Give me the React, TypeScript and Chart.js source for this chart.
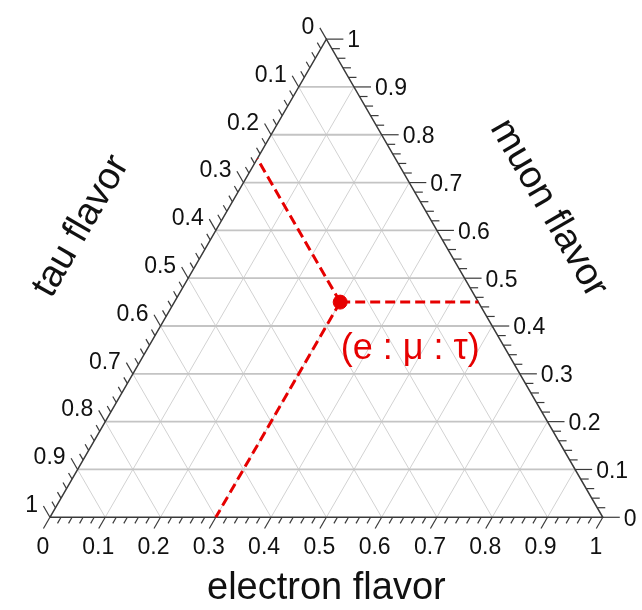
import React, { useEffect, useRef } from "react";
import { Chart, registerables } from "chart.js";

Chart.register(...registerables);

// ---- data ----
const axisTickValues = [0, 0.1, 0.2, 0.3, 0.4, 0.5, 0.6, 0.7, 0.8, 0.9, 1];
const axisTickLabels = ["0", "0.1", "0.2", "0.3", "0.4", "0.5", "0.6", "0.7", "0.8", "0.9", "1"];
const gridValues = [0.1, 0.2, 0.3, 0.4, 0.5, 0.6, 0.7, 0.8, 0.9];
const minorPerMajor = 5;
const electronShare = [0.3];
const muonShare = [0.45];
const tauShare = [0.25];
const axisTitles = ["electron flavor", "muon flavor", "tau flavor"];
const pointLabel = "(e : μ : τ)";

const H = Math.sqrt(3) / 2;
const toXY = (e: number, mu: number) => ({ x: e + mu / 2, y: mu * H });
const GAP = { x: NaN, y: NaN };

function segments(list: Array<[[number, number], [number, number]]>) {
  const out: any[] = [];
  list.forEach(([a, b]) => {
    out.push(toXY(a[0], a[1]), toXY(b[0], b[1]), GAP);
  });
  return out;
}

const FONT = "'Liberation Sans', Arial, sans-serif";

const ternaryPlugin = {
  id: "ternaryDecor",
  afterDatasetsDraw(chart: any) {
    const ctx = chart.ctx as CanvasRenderingContext2D;
    const xs = chart.scales.x;
    const ys = chart.scales.y;
    const pix = (e: number, mu: number) => {
      const p = toXY(e, mu);
      return { x: xs.getPixelForValue(p.x), y: ys.getPixelForValue(p.y) };
    };
    ctx.save();
    ctx.strokeStyle = "#3a3a3a";
    ctx.lineWidth = 1.2;
    const tick = (p: { x: number; y: number }, dx: number, dy: number, len: number) => {
      ctx.beginPath();
      ctx.moveTo(p.x, p.y);
      ctx.lineTo(p.x + dx * len, p.y + dy * len);
      ctx.stroke();
    };
    const nMinor = (axisTickValues.length - 1) * minorPerMajor;
    for (let i = 0; i <= nMinor; i++) {
      const v = i / nMinor;
      const major = i % minorPerMajor === 0;
      tick(pix(v, 0), -0.5, 0.866, major ? 13 : 7);
      tick(pix(1 - v, v), 1, 0, major ? 17 : 8);
      tick(pix(0, 1 - v), -0.5, -0.866, major ? 13 : 7);
    }
    ctx.fillStyle = "#111";
    ctx.font = `23px ${FONT}`;
    ctx.textBaseline = "middle";
    axisTickValues.forEach((v, i) => {
      const lab = axisTickLabels[i];
      const b = pix(v, 0);
      ctx.textAlign = "center";
      ctx.fillText(lab, b.x - 7, b.y + 30);
      const r = pix(1 - v, v);
      ctx.textAlign = "left";
      ctx.fillText(lab, r.x + 21, r.y + 2);
      const l = pix(0, 1 - v);
      ctx.textAlign = "right";
      ctx.fillText(lab, l.x - 12, l.y - 11.5);
    });
    ctx.font = `38px ${FONT}`;
    ctx.textAlign = "center";
    ctx.textBaseline = "middle";
    const bm = pix(0.5, 0);
    ctx.fillText(axisTitles[0], bm.x, bm.y + 71);
    const rm = pix(0.5, 0.5);
    ctx.save();
    ctx.translate(rm.x + 84, rm.y - 70);
    ctx.rotate(Math.PI / 3);
    ctx.fillText(axisTitles[1], 0, 0);
    ctx.restore();
    const lm = pix(0, 0.5);
    ctx.save();
    ctx.translate(lm.x - 107, lm.y - 52);
    ctx.rotate(-Math.PI / 3);
    ctx.fillText(axisTitles[2], 0, 0);
    ctx.restore();
    const P = pix(electronShare[0], muonShare[0]);
    ctx.fillStyle = "#e60000";
    ctx.font = `36px ${FONT}`;
    ctx.fillText(pointLabel, P.x + 70, P.y + 47);
    ctx.restore();
  },
};

export default function App() {
  const ref = useRef<HTMLCanvasElement | null>(null);
  useEffect(() => {
    if (!ref.current) return;
    document.body.style.margin = "0";
    const e = electronShare[0];
    const mu = muonShare[0];
    const tau = tauShare[0];

    const horizontal = segments(gridValues.map((m) => [[0, m], [1 - m, m]] as any));
    const slanted = segments([
      ...gridValues.map((v) => [[v, 0], [v, 1 - v]] as any),
      ...gridValues.map((t) => [[1 - t, 0], [0, 1 - t]] as any),
    ]);
    const triangle = [toXY(0, 0), toXY(1, 0), toXY(0, 1), toXY(0, 0)];
    const guides = segments([
      [[e, mu], [e, 0]],
      [[e, mu], [1 - mu, mu]],
      [[e, mu], [0, 1 - tau]],
    ] as any);

    const chart = new Chart(ref.current, {
      type: "scatter",
      data: {
        datasets: [
          {
            data: [toXY(e, mu)],
            pointRadius: 7,
            pointBackgroundColor: "#e60000",
            pointBorderColor: "#e60000",
            showLine: false,
          } as any,
          {
            data: guides,
            showLine: true,
            borderColor: "#e60000",
            borderWidth: 3,
            borderDash: [10, 5],
            pointRadius: 0,
          },
          {
            data: triangle,
            showLine: true,
            borderColor: "#3a3a3a",
            borderWidth: 1.5,
            pointRadius: 0,
          },
          {
            data: horizontal,
            showLine: true,
            borderColor: "#c4c4c4",
            borderWidth: 1.8,
            pointRadius: 0,
          },
          {
            data: slanted,
            showLine: true,
            borderColor: "#d2d2d2",
            borderWidth: 1,
            pointRadius: 0,
          },
        ],
      },
      options: {
        animation: false,
        responsive: false,
        devicePixelRatio: 1,
        layout: { padding: 0 },
        plugins: { legend: { display: false }, tooltip: { enabled: false } },
        events: [],
        scales: {
          x: { type: "linear", display: false, min: -43 / 567, max: 599 / 567 },
          y: { type: "linear", display: false, min: -87 / 567, max: 523 / 567 },
        },
      },
      plugins: [ternaryPlugin],
    });
    return () => chart.destroy();
  }, []);
  return (
    <div style={{ width: 642, height: 610, background: "#fff" }}>
      <canvas ref={ref} width={642} height={610} style={{ display: "block", width: 642, height: 610 }} />
    </div>
  );
}
